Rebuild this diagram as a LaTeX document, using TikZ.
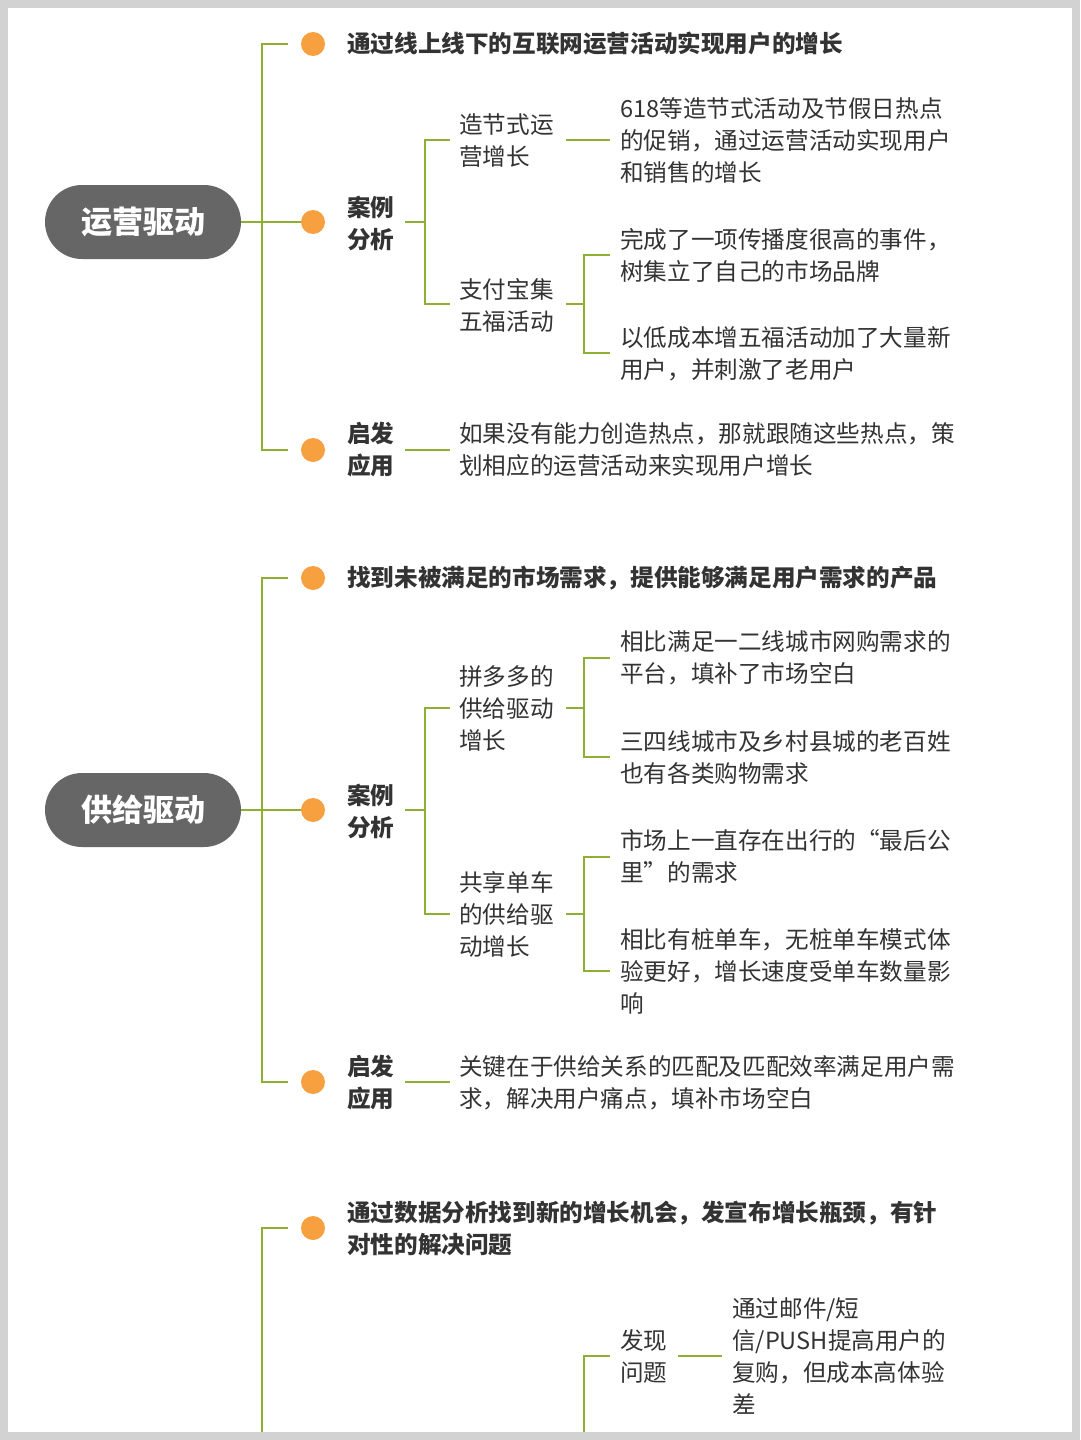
\documentclass[tikz,border=0pt]{standalone}
\usepackage{fontspec}
\setmainfont{Noto Sans CJK SC}
\begin{document}
\begin{tikzpicture}[x=1pt,y=-1pt,
  ln/.style={draw=lnc,line width=2.8pt},
  dot/.style={circle,fill=orc,minimum size=24pt,inner sep=0pt},
  pill/.style={rounded corners=37pt,fill=pillc,minimum width=196pt,minimum height=74pt,text=white,font=\fontsize{31}{32}\selectfont\bfseries},
  tx/.style={anchor=west,align=left,inner sep=0pt,text=txc,font=\fontsize{23.6}{32}\selectfont},
  tb/.style={tx,font=\fontsize{23.6}{32}\selectfont\bfseries}]
\definecolor{lnc}{HTML}{8DB033}
\definecolor{orc}{HTML}{F7A040}
\definecolor{pillc}{HTML}{666666}
\definecolor{txc}{HTML}{333333}
\fill[gray!35] (0,0) rectangle (1080,1440);
\fill[white] (8,8) rectangle (1072,1432);
\useasboundingbox (0,0) rectangle (1080,1440);
% section 1
\node[pill] (p1) at (143,222) {运营驱动};
\draw[ln] (p1.east) -- (262,222);
\draw[ln] (288,44) -- (262,44) -- (262,450) -- (288,450);
\node[dot] (b11) at (313,44) {}; \node[dot] (b12) at (313,222) {}; \node[dot] (b13) at (313,450) {};
\draw[ln] (262,222) -- (b12);
\node[tb] (t11) at (347,44) {通过线上线下的互联网运营活动实现用户的增长};
\node[tb] (t12) at (347,223) {案例\\分析};
\draw[ln] (405,222) -- (425,222);
\draw[ln] (450,140) -- (425,140) -- (425,304) -- (450,304);
\node[tx] (a1) at (459,141) {造节式运\\营增长};
\draw[ln] (566,140) -- (610,140);
\node[tx] (a1t) at (620,140) {618等造节式活动及节假日热点\\的促销，通过运营活动实现用户\\和销售的增长};
\node[tx] (a2) at (459,305) {支付宝集\\五福活动};
\draw[ln] (566,304) -- (584,304);
\draw[ln] (610,255) -- (584,255) -- (584,353) -- (610,353);
\node[tx] (a21) at (620,255) {完成了一项传播度很高的事件，\\树集立了自己的市场品牌};
\node[tx] (a22) at (620,354) {以低成本增五福活动加了大量新\\用户，并刺激了老用户};
\node[tb] (t13) at (347,450) {启发\\应用};
\draw[ln] (405,450) -- (450,450);
\node[tx] (t13t) at (459,450) {如果没有能力创造热点，那就跟随这些热点，策\\划相应的运营活动来实现用户增长};
% section 2
\node[pill] (p2) at (143,810) {供给驱动};
\draw[ln] (p2.east) -- (262,810);
\draw[ln] (288,578) -- (262,578) -- (262,1082) -- (288,1082);
\node[dot] (b21) at (313,578) {}; \node[dot] (b22) at (313,810) {}; \node[dot] (b23) at (313,1082) {};
\draw[ln] (262,810) -- (b22);
\node[tb] (t21) at (347,578) {找到未被满足的市场需求，提供能够满足用户需求的产品};
\node[tb] (t22) at (347,811) {案例\\分析};
\draw[ln] (405,810) -- (425,810);
\draw[ln] (450,708) -- (425,708) -- (425,914) -- (450,914);
\node[tx] (d1) at (459,708) {拼多多的\\供给驱动\\增长};
\draw[ln] (566,708) -- (584,708);
\draw[ln] (610,658) -- (584,658) -- (584,757) -- (610,757);
\node[tx] (d11) at (620,658) {相比满足一二线城市网购需求的\\平台，填补了市场空白};
\node[tx] (d12) at (620,757) {三四线城市及乡村县城的老百姓\\也有各类购物需求};
\node[tx] (d2) at (459,914) {共享单车\\的供给驱\\动增长};
\draw[ln] (566,914) -- (584,914);
\draw[ln] (610,857) -- (584,857) -- (584,971) -- (610,971);
\node[tx] (d21) at (620,856) {市场上一直存在出行的“最后公\\里”的需求};
\node[tx] (d22) at (620,971) {相比有桩单车，无桩单车模式体\\验更好，增长速度受单车数量影\\响};
\node[tb] (t23) at (347,1083) {启发\\应用};
\draw[ln] (405,1082) -- (450,1082);
\node[tx] (t23t) at (459,1083) {关键在于供给关系的匹配及匹配效率满足用户需\\求，解决用户痛点，填补市场空白};
% section 3
\draw[ln] (288,1228) -- (262,1228) -- (262,1440);
\node[dot] (b31) at (313,1228) {};
\node[tb] (t31) at (347,1228) {通过数据分析找到新的增长机会，发宣布增长瓶颈，有针\\对性的解决问题};
\draw[ln] (610,1356) -- (584,1356) -- (584,1440);
\node[tx] (e1) at (620,1356) {发现\\问题};
\draw[ln] (678,1356) -- (722,1356);
\node[tx] (e1t) at (732,1356) {通过邮件/短\\信/PUSH提高用户的\\复购，但成本高体验\\差};
\fill[gray!35] (0,1432) rectangle (1080,1440);
\end{tikzpicture}
\end{document}
